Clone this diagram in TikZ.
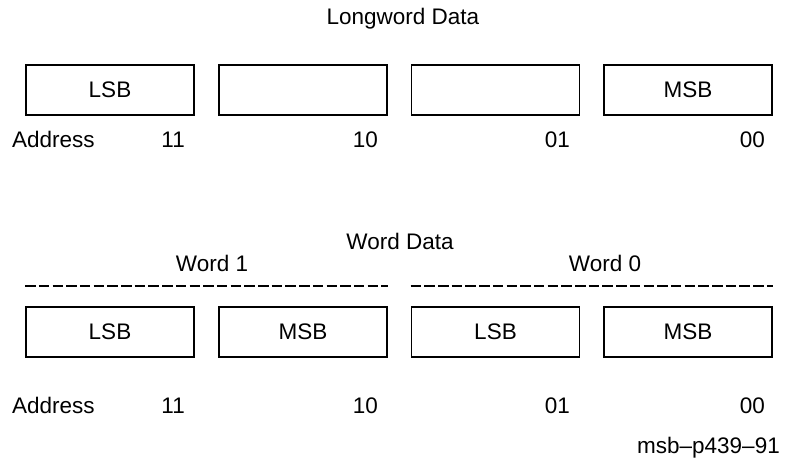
\documentclass[tikz,border=0pt]{standalone}
\usepackage{fontspec}
\setmainfont{Liberation Sans}
\usepackage{tikz}
\usetikzlibrary{calc}

\begin{document}
\begin{tikzpicture}[
    x=1pt, y=-1pt,
    font=\fontsize{22.5}{26}\selectfont,
    bytebox/.style={draw, line width=1.8pt, minimum width=168pt,
                    minimum height=50pt, inner sep=0pt},
    addrnum/.style={anchor=base east, inner sep=0pt},
    wordline/.style={line width=1.5pt, dash pattern=on 10.5pt off 3.2pt}
  ]
    \useasboundingbox (0,0) rectangle (787,467);

    % longword row
    \node (judul) at (403,19) {Longword Data};
    \node[bytebox] (l3) at (110,90) {LSB};
    \node[bytebox] (l2) at (303,90) {};
    \node[bytebox] (l1) at (495.5,90) {};
    \node[bytebox] (l0) at (688,90) {MSB};
    \node[anchor=base west, inner sep=0pt] (ladr) at (12,147) {Address};
    \node[addrnum] (la3) at (185,147) {11};
    \node[addrnum] (la2) at (378,147) {10};
    \node[addrnum] (la1) at (570,147) {01};
    \node[addrnum] (la0) at (765,147) {00};

    % word row
    \node (wjudul) at (400,241) {Word Data};
    \node (wsatu) at (212,263) {Word 1};
    \node (wnol) at (605,263) {Word 0};
    \node[bytebox] (w3) at (110,332) {LSB};
    \node[bytebox] (w2) at (303,332) {MSB};
    \node[bytebox] (w1) at (495.5,332) {LSB};
    \node[bytebox] (w0) at (688,332) {MSB};
    \draw[wordline] ($(w3.north west)+(0,-20)$) -- ($(w2.north east)+(0,-20)$);
    \draw[wordline] ($(w1.north west)+(0,-20)$) -- ($(w0.north east)+(0,-20)$);
    \node[anchor=base west, inner sep=0pt] (wadr) at (12,413) {Address};
    \node[addrnum] (wa3) at (185,413) {11};
    \node[addrnum] (wa2) at (378,413) {10};
    \node[addrnum] (wa1) at (570,413) {01};
    \node[addrnum] (wa0) at (765,413) {00};

    \node[addrnum] (kode) at (780,453) {msb{\textendash}p439{\textendash}91};
  \end{tikzpicture}
\end{document}
